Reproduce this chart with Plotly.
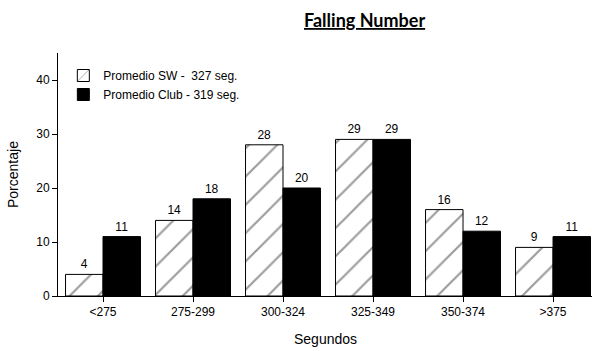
import plotly.graph_objects as go

categories = ["<275", "275-299", "300-324", "325-349", "350-374", ">375"]
sw_values = [4, 14, 28, 29, 16, 9]
club_values = [11, 18, 20, 29, 12, 11]
sw_name = "Promedio SW -\u00a0 327 seg."
club_name = "Promedio Club - 319 seg."
y_ticks = [0, 10, 20, 30, 40]

FONT = "Arial, Liberation Sans, sans-serif"
W, H = 592, 351
ML, MR, MT, MB = 58, 0, 53, 55
PW, PH = W - ML - MR, H - MT - MB

def px_x(px):
    return (px - ML) / PW

def px_y(py):
    return (H - MB - py) / PH

lbl = dict(size=12, color="black", family=FONT)

fig = go.Figure()
fig.add_trace(go.Bar(
    x=categories, y=sw_values, name=sw_name,
    marker=dict(color="white", line=dict(color="black", width=1),
                pattern=dict(shape="/", fgcolor="#3a3a3a", bgcolor="white", size=20, solidity=0.11)),
    text=sw_values, textposition="outside", textfont=lbl, outsidetextfont=lbl,
    cliponaxis=False,
))
fig.add_trace(go.Bar(
    x=categories, y=club_values, name=club_name,
    marker=dict(color="black", line=dict(color="black", width=1)),
    text=club_values, textposition="outside", textfont=lbl, outsidetextfont=lbl,
    cliponaxis=False,
))

fig.update_layout(
    width=W, height=H,
    margin=dict(l=ML, r=MR, t=MT, b=MB, autoexpand=False),
    paper_bgcolor="white", plot_bgcolor="white",
    barmode="group", bargap=0.167, bargroupgap=0,
    font=dict(family=FONT, size=12, color="black"),
    showlegend=True,
    legend=dict(x=0.01, y=px_y(61), xanchor="left", yanchor="top", bgcolor="rgba(0,0,0,0)",
                font=dict(size=12, family=FONT), tracegroupgap=0, itemwidth=30),
    annotations=[
        dict(text="<b><u>Falling Number</u></b>", xref="paper", yref="paper",
             x=px_x(364), y=px_y(20), xanchor="center", yanchor="middle", showarrow=False,
             font=dict(family="Lato, sans-serif", size=18, color="black")),
        dict(text="Segundos", xref="paper", yref="paper",
             x=px_x(325), y=px_y(339), xanchor="center", yanchor="middle", showarrow=False,
             font=dict(family=FONT, size=14, color="black")),
        dict(text="Porcentaje", xref="paper", yref="paper", textangle=-90,
             x=px_x(13), y=px_y(175), xanchor="center", yanchor="middle", showarrow=False,
             font=dict(family=FONT, size=14, color="black")),
    ],
    xaxis=dict(
        range=[-0.5, 5.433], showline=True, linecolor="black", linewidth=1,
        ticks="outside", ticklen=5, tickcolor="black", showgrid=False, zeroline=False,
        tickfont=dict(size=12, family=FONT), automargin=False,
    ),
    yaxis=dict(
        range=[0, 45], tickvals=y_ticks, showline=True, linecolor="black", linewidth=1,
        ticks="outside", ticklen=5, tickcolor="black", showgrid=False, zeroline=False,
        tickfont=dict(size=12, family=FONT), automargin=False,
    ),
)

fig.write_html("out.html", config={"displayModeBar": False, "staticPlot": True},
               post_script="document.body.style.margin='0';document.body.style.overflow='hidden';")
